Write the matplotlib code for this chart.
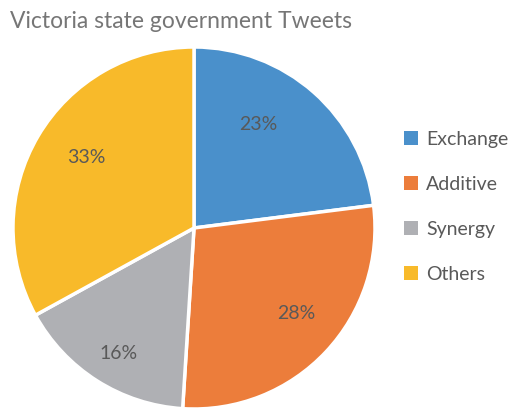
import numpy as np
import matplotlib
matplotlib.use("Agg")
import matplotlib.pyplot as plt
from matplotlib.patches import Patch

categories = ["Exchange", "Additive", "Synergy", "Others"]
shares = [23, 28, 16, 33]
colors = ["#4A90CB", "#EC7D3B", "#AFB0B4", "#F8BA2A"]
title = "Victoria state government Tweets"

# per-slice placement of the percentage labels (radius fraction, angle nudge in degrees)
label_radius = [0.67, 0.74, 0.81, 0.71]
label_nudge = [9.6, 3.3, 1.4, -2.7]

plt.rcParams["font.family"] = ["Lato", "DejaVu Sans"]

W, H = 513, 411
fig = plt.figure(figsize=(W / 100, H / 100), dpi=100)

# pie occupies a square region in pixel units
cx, cy, r = 194, 228, 181
ax = fig.add_axes([(cx - r) / W, (H - cy - r) / H, 2 * r / W, 2 * r / H])

wedges, texts, autotexts = ax.pie(
    shares, colors=colors, startangle=90, counterclock=False,
    autopct=lambda p: f"{p:.0f}%", pctdistance=0.72, radius=1,
    wedgeprops=dict(edgecolor="white", linewidth=2.5),
    textprops=dict(color="#595959", fontsize=14),
    frame=True,
)
for w, t, rad, nudge in zip(wedges, autotexts, label_radius, label_nudge):
    mid = np.deg2rad((w.theta1 + w.theta2) / 2 + nudge)
    t.set_position((rad * np.cos(mid), rad * np.sin(mid)))

ax.set_xlim(-1, 1)
ax.set_ylim(-1, 1)
ax.axis("off")

fig.text(10 / W, 1 - 28 / H, title, fontsize=16.5, color="#767676",
         ha="left", va="baseline")

handles = [Patch(facecolor=c, edgecolor="none") for c in colors]
fig.legend(handles, categories, loc="upper left",
           bbox_to_anchor=(386 / W, 1 - 113 / H), frameon=False,
           fontsize=14, labelcolor="#595959", handlelength=0.72,
           handleheight=0.72, handletextpad=0.45, labelspacing=1.45)

fig.savefig("out.png", dpi=100)
